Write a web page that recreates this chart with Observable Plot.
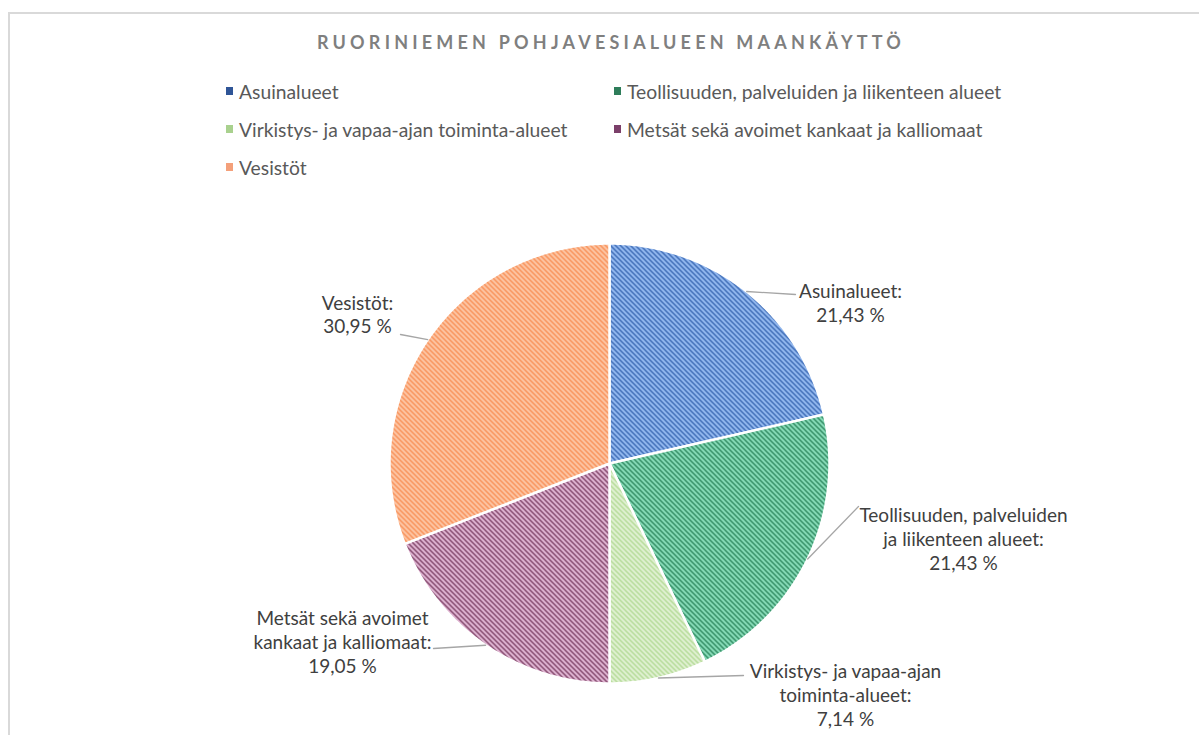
<!DOCTYPE html>
<html><head><meta charset="utf-8">
<script src="https://cdn.jsdelivr.net/npm/d3@7"></script>
<script src="https://cdn.jsdelivr.net/npm/@observablehq/plot@0.6"></script>
<style>
body{margin:0;background:#fff;font-family:Lato,"Liberation Sans",sans-serif;}
#wrap{position:relative;width:1199px;height:735px;overflow:hidden;background:#fff;}
#frame{position:absolute;left:8px;top:12px;width:1300px;height:900px;border:2px solid #d9d9d9;box-sizing:border-box;}
#title{position:absolute;left:0;width:1222px;top:31px;text-align:center;font-size:18px;font-weight:bold;letter-spacing:4.2px;color:#7f7f7f;white-space:nowrap;}
.leg{position:absolute;display:flex;align-items:center;font-size:19.3px;color:#595959;white-space:nowrap;height:24px;}
.leg .sw{width:7px;height:8px;margin-right:6px;}
#chart{position:absolute;left:0;top:0;}
</style>
</head><body>
<div id="wrap"><div id="frame"></div><div id="title"></div><div id="chart"></div></div>
<script>
const title = "RUORINIEMEN POHJAVESIALUEEN MAANKÄYTTÖ";
const categories = [
  "Asuinalueet",
  "Teollisuuden, palveluiden ja liikenteen alueet",
  "Virkistys- ja vapaa-ajan toiminta-alueet",
  "Metsät sekä avoimet kankaat ja kalliomaat",
  "Vesistöt"
];
const values = [21.43, 21.43, 7.14, 19.05, 30.95];
const labelNames = [
  "Asuinalueet:",
  "Teollisuuden, palveluiden\nja liikenteen alueet:",
  "Virkistys- ja vapaa-ajan\ntoiminta-alueet:",
  "Metsät sekä avoimet\nkankaat ja kalliomaat:",
  "Vesistöt:"
];
const legendNames = ["Asuinalueet","Teollisuuden, palveluiden ja liikenteen alueet"," Virkistys- ja vapaa-ajan toiminta-alueet","Metsät sekä avoimet kankaat ja kalliomaat","Vesistöt"];

// styles / layout
const lightFill = ["#9cc0f5","#8fe3c0","#e3f2d6","#e9bfdc","#fdc9aa"];
const darkFill  = ["#2a5aa8","#1f7a50","#acd68c","#6e2f55","#f7874a"];
const legendColor = ["#2f5597","#2e7d5a","#a9d18e","#7b3f6a","#f4a07a"];
const cx = 609, cy = 463, R = 220;
const labelPos = [[850,302],[963,538],[845,694],[342,641],[357,313.5]];
const leaderEnd = [[795,294],[858,506],[743,675],[433,648],[400,334]];

document.getElementById("title").textContent = title;
const wrap = document.getElementById("wrap");
legendNames.forEach((name,i)=>{
  const col = i%2, row = Math.floor(i/2);
  const d = document.createElement("div");
  d.className="leg";
  d.style.left = (col ? 614 : 226) + "px";
  d.style.top = (91 + 38*row - 12) + "px";
  d.innerHTML = `<span class="sw" style="background:${legendColor[i]}"></span><span></span>`;
  d.lastChild.textContent = name;
  wrap.appendChild(d);
});

const total = d3.sum(values);
let acc = 0;
const slices = values.map((v,i)=>{
  const a0 = acc/total*2*Math.PI; acc += v;
  const a1 = acc/total*2*Math.PI;
  const pts = [{x:cx,y:cy}];
  const n = Math.max(4, Math.ceil((a1-a0)/(Math.PI/360)));
  for(let k=0;k<=n;k++){const a=a0+(a1-a0)*k/n; pts.push({x:cx+R*Math.sin(a), y:cy-R*Math.cos(a)});}
  pts.push({x:cx,y:cy});
  const am = (a0+a1)/2;
  return {i, pts, mid:{x:cx+R*Math.sin(am), y:cy-R*Math.cos(am)}};
});

const labelData = values.map((v,i)=>({
  x: labelPos[i][0], y: labelPos[i][1],
  text: labelNames[i] + "\n" + v.toFixed(2).replace(".", ",") + " %"
}));

const marks = [];
slices.forEach(s=>{
  marks.push(Plot.line(s.pts, {x:"x", y:"y", fill:`url(#pat${s.i})`, stroke:"white", strokeWidth:2.5, strokeLinejoin:"round", curve:"linear"}));
});
slices.forEach(s=>{
  marks.push(Plot.line([s.mid, {x:leaderEnd[s.i][0], y:leaderEnd[s.i][1]}], {x:"x", y:"y", stroke:"#a6a6a6", strokeWidth:1.3}));
});
marks.push(Plot.text(labelData, {x:"x", y:"y", text:"text", fontSize:19, lineHeight:1.25, fill:"#404040", textAnchor:"middle", fontFamily:"Lato, Liberation Sans, sans-serif"}));

const svg = Plot.plot({
  width:1199, height:735, margin:0,
  x:{domain:[0,1199], range:[0,1199], axis:null},
  y:{domain:[0,735], range:[0,735], axis:null},
  style:{background:"transparent", overflow:"visible"},
  marks
});
const defs = d3.select(svg).insert("defs", ":first-child");
lightFill.forEach((c,i)=>{
  const p = defs.append("pattern").attr("id","pat"+i).attr("width",5).attr("height",5).attr("patternUnits","userSpaceOnUse");
  p.append("rect").attr("width",5).attr("height",5).attr("fill",c);
  p.append("path").attr("d","M-1,-1L6,6M-1,4L1,6M4,-1L6,1").attr("stroke",darkFill[i]).attr("stroke-width",1.3);
});
document.getElementById("chart").appendChild(svg);
</script>
</body></html>
